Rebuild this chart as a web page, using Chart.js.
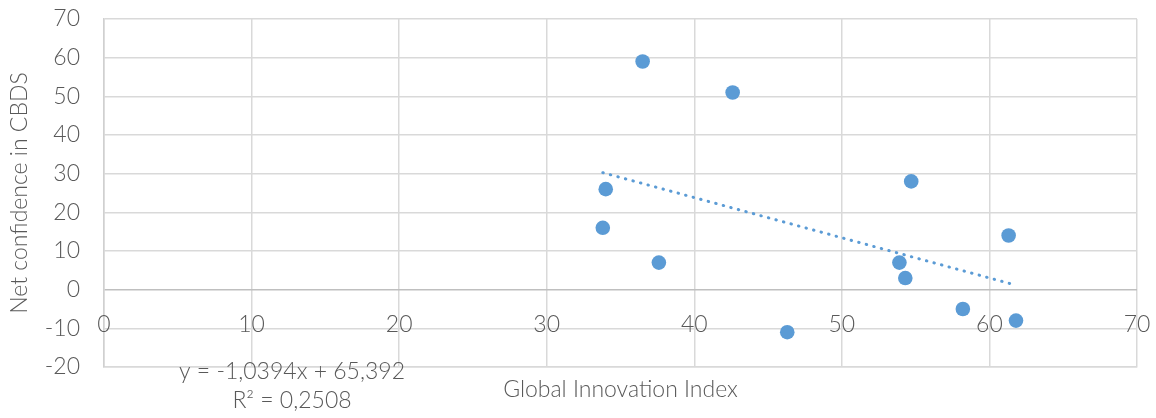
<!DOCTYPE html>
<html>
<head>
<meta charset="utf-8">
<script src="https://cdn.jsdelivr.net/npm/chart.js@4"></script>
<style>
  html, body { margin: 0; padding: 0; background: #fff; }
  #wrap { width: 1156px; height: 418px; }
</style>
</head>
<body>
<div id="wrap"><canvas id="chart" width="1156" height="418"></canvas></div>
<script>
// ==========================
// Data
// ==========================
const giiValues = [36.5, 42.6, 34.0, 33.8, 37.6, 54.7, 53.9, 54.3, 58.2, 61.3, 61.8, 46.3];
const netConfidence = [59, 51, 26, 16, 7, 28, 7, 3, -5, 14, -8, -11];
const xTicks = [0, 10, 20, 30, 40, 50, 60, 70];
const trendSlope = -1.0394;
const trendIntercept = 65.392;
const trendLabel = "y = -1,0394x + 65,392";
const r2Label = "R\u00B2 = 0,2508";

const points = giiValues.map((x, i) => ({ x: x, y: netConfidence[i] }));
const xMin = Math.min(...giiValues);
const xMax = Math.max(...giiValues);
const trendPoints = [xMin, xMax].map(x => ({ x: x, y: trendSlope * x + trendIntercept }));

const textColor = '#595959';
const fontFamily = 'Lato, "Open Sans", sans-serif';
const fontSize = 23;

// ==========================
// Plugin: x labels on the zero line + equation text
// ==========================
const extraText = {
    id: 'extraText',
    afterDraw(chart) {
        const ctx = chart.ctx;
        const xs = chart.scales.x;
        const ys = chart.scales.y;
        const zeroY = ys.getPixelForValue(0);
        ctx.save();
        ctx.fillStyle = textColor;
        ctx.font = '300 ' + fontSize + 'px ' + fontFamily;
        ctx.textAlign = 'center';
        ctx.textBaseline = 'middle';
        xTicks.forEach(v => {
            ctx.fillText(String(v), xs.getPixelForValue(v), zeroY + 35);
        });
        ctx.fillText(trendLabel, 292, 372);
        ctx.fillText(r2Label, 292, 401);
        ctx.restore();
    }
};

function clearPadding(scale) {
    scale.paddingTop = 0;
    scale.paddingBottom = 0;
    scale.paddingLeft = 0;
    scale.paddingRight = 0;
}

// ==========================
// Chart
// ==========================
new Chart(document.getElementById('chart').getContext('2d'), {
    type: 'scatter',
    data: {
        datasets: [
            {
                label: 'Net confidence',
                data: points,
                backgroundColor: '#5b9bd5',
                borderColor: '#5b9bd5',
                pointRadius: 7.3,
                pointHoverRadius: 7.3,
                borderWidth: 0
            },
            {
                label: 'Trend',
                type: 'line',
                data: trendPoints,
                borderColor: '#5b9bd5',
                borderWidth: 3,
                borderDash: [0.5, 7.3],
                borderCapStyle: 'round',
                pointRadius: 0,
                fill: false
            }
        ]
    },
    options: {
        responsive: false,
        animation: false,
        layout: { padding: { top: 19, right: 19, left: 0, bottom: 0 } },
        plugins: {
            legend: { display: false },
            tooltip: { enabled: false }
        },
        scales: {
            x: {
                type: 'linear',
                min: 0,
                max: 70,
                ticks: { stepSize: 10, display: false },
                grid: { color: '#d9d9d9', lineWidth: 1.5, drawTicks: false },
                border: { color: '#d9d9d9', width: 1.5 },
                title: {
                    display: true,
                    text: 'Global Innovation Index',
                    color: textColor,
                    font: { family: fontFamily, size: fontSize, weight: '300' },
                    padding: { top: 4, bottom: 15 }
                },
                afterFit(scale) { scale.height = 51; clearPadding(scale); }
            },
            y: {
                min: -20,
                max: 70,
                ticks: {
                    stepSize: 10,
                    color: textColor,
                    font: { family: fontFamily, size: fontSize, weight: '300' },
                    padding: 24
                },
                grid: {
                    color: ctx => (ctx.tick && ctx.tick.value === 0) ? '#bfbfbf' : '#d9d9d9',
                    lineWidth: 1.5,
                    drawTicks: false
                },
                border: { color: '#d0d0d0', width: 1.5 },
                title: {
                    display: true,
                    text: 'Net confidence in CBDS',
                    color: textColor,
                    font: { family: fontFamily, size: fontSize, weight: '300' },
                    padding: { top: 6, bottom: 4 }
                },
                afterFit(scale) { scale.width = 104; clearPadding(scale); }
            }
        }
    },
    plugins: [extraText]
});
</script>
</body>
</html>
